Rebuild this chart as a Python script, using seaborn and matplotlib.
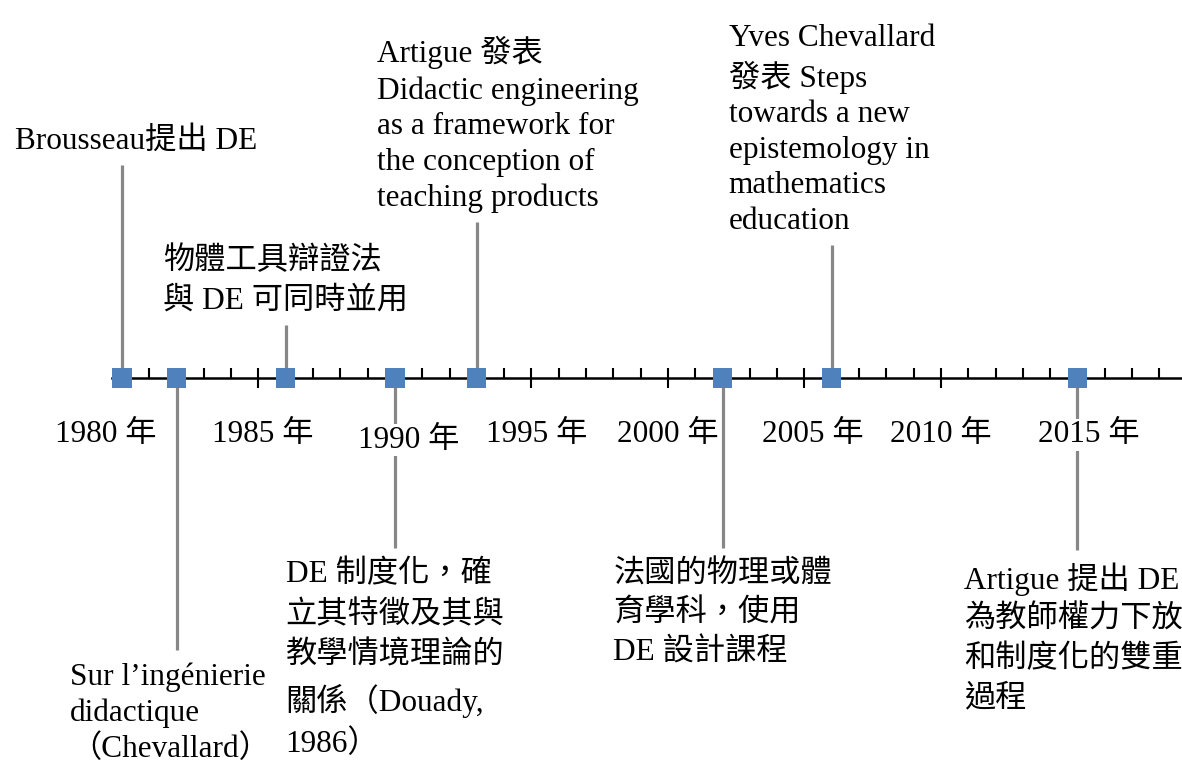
import matplotlib.pyplot as plt
import seaborn as sns
import pandas as pd

# timeline events: year, stem height (+ above axis, - below), caption
event_year = [1980, 1982, 1986, 1990, 1993, 2002, 2006, 2015]
stem_height = [213, -272, 53, -170, 156, -170, 133, -172]
event_text = [
    "Brousseau提出 DE",
    "Sur l\u2019ingénierie\ndidactique\n（Chevallard）",
    "物體工具辯證法\n與 DE 可同時並用",
    "DE 制度化，確\n立其特徵及其與\n教學情境理論的\n關係（Douady,\n1986）",
    "Artigue 發表\nDidactic engineering\nas a framework for\nthe conception of\nteaching products",
    "法國的物理或體\n育學科，使用\nDE 設計課程",
    "Yves Chevallard\n發表 Steps\ntowards a new\nepistemology in\nmathematics\neducation",
    "Artigue 提出 DE\n為教師權力下放\n和制度化的雙重\n過程",
]
year_ticks = [1980, 1985, 1990, 1995, 2000, 2005, 2010, 2015]
year_labels = [f"{y} 年" for y in year_ticks]

df = pd.DataFrame({"year": event_year, "height": stem_height, "text": event_text})

sns.set_style("white")
plt.rcParams['font.family'] = ['Liberation Serif', 'Noto Sans CJK TC', 'DejaVu Sans']
plt.rcParams['text.color'] = 'black'
FS = 22.5

fig = plt.figure(figsize=(11.82, 7.63), dpi=100)
ax = fig.add_axes([112 / 1182, 0, 1 - 112 / 1182, 1])
ax.set_xlim(1979.634, 2018.83)
ax.set_ylim(-385, 378)

# axis line with ticks
for s in ['top', 'left', 'right']:
    ax.spines[s].set_visible(False)
ax.spines['bottom'].set_position(('data', 0))
ax.spines['bottom'].set_linewidth(1.8)
ax.spines['bottom'].set_color('black')
ax.set_xticks(year_ticks)
ax.set_xticks(range(1980, 2019), minor=True)
ax.tick_params(axis='x', which='both', bottom=True, labelbottom=False)
ax.tick_params(axis='x', which='major', direction='inout', length=15, width=1.5,
               color='black')
ax.tick_params(axis='x', which='minor', direction='in', length=7, width=1.5,
               color='black')
ax.set_yticks([])

# stems
ax.vlines(df['year'], 0, df['height'], color='#878787', linewidth=2.3, zorder=3)

# markers
sns.scatterplot(data=df, x='year', y=[0] * len(df), marker='s', s=190,
                color='#4F81BD', edgecolor='none', ax=ax, zorder=6, clip_on=False)
ax.set_xlabel('')
ax.set_ylabel('')

# event captions
x_shift = [0.5, -0.25, 0, 0, 1.13, 0, 0, -0.15]
spacing = [1.3, 1.3, 1.5, 1.5, 1.3, 1.45, 1.3, 1.45]
for (yr, h, txt), dx, ls in zip(df[['year', 'height', 'text']].values, x_shift, spacing):
    if h > 0:
        ax.text(yr + dx, h + 9, txt, ha='center', va='bottom', multialignment='left',
                fontsize=FS, linespacing=ls, color='black', zorder=7)
    else:
        ax.text(yr + dx, h - 12, txt, ha='center', va='top', multialignment='left',
                fontsize=FS, linespacing=ls, color='black', zorder=7)

# year labels
label_dx = [-0.6, 0.15, 0.5, 0.2, 0.0, 0.3, 0.0, 0.4]
label_dy = [-57, -57, -62, -57, -57, -57, -57, -57]
for yr, lab, dx, dy in zip(year_ticks, year_labels, label_dx, label_dy):
    ax.text(yr + dx, dy, lab, ha='center', va='center', fontsize=FS, color='black',
            zorder=8, bbox=dict(facecolor='white', edgecolor='none', pad=1))

fig.savefig('out.png', dpi=100)
